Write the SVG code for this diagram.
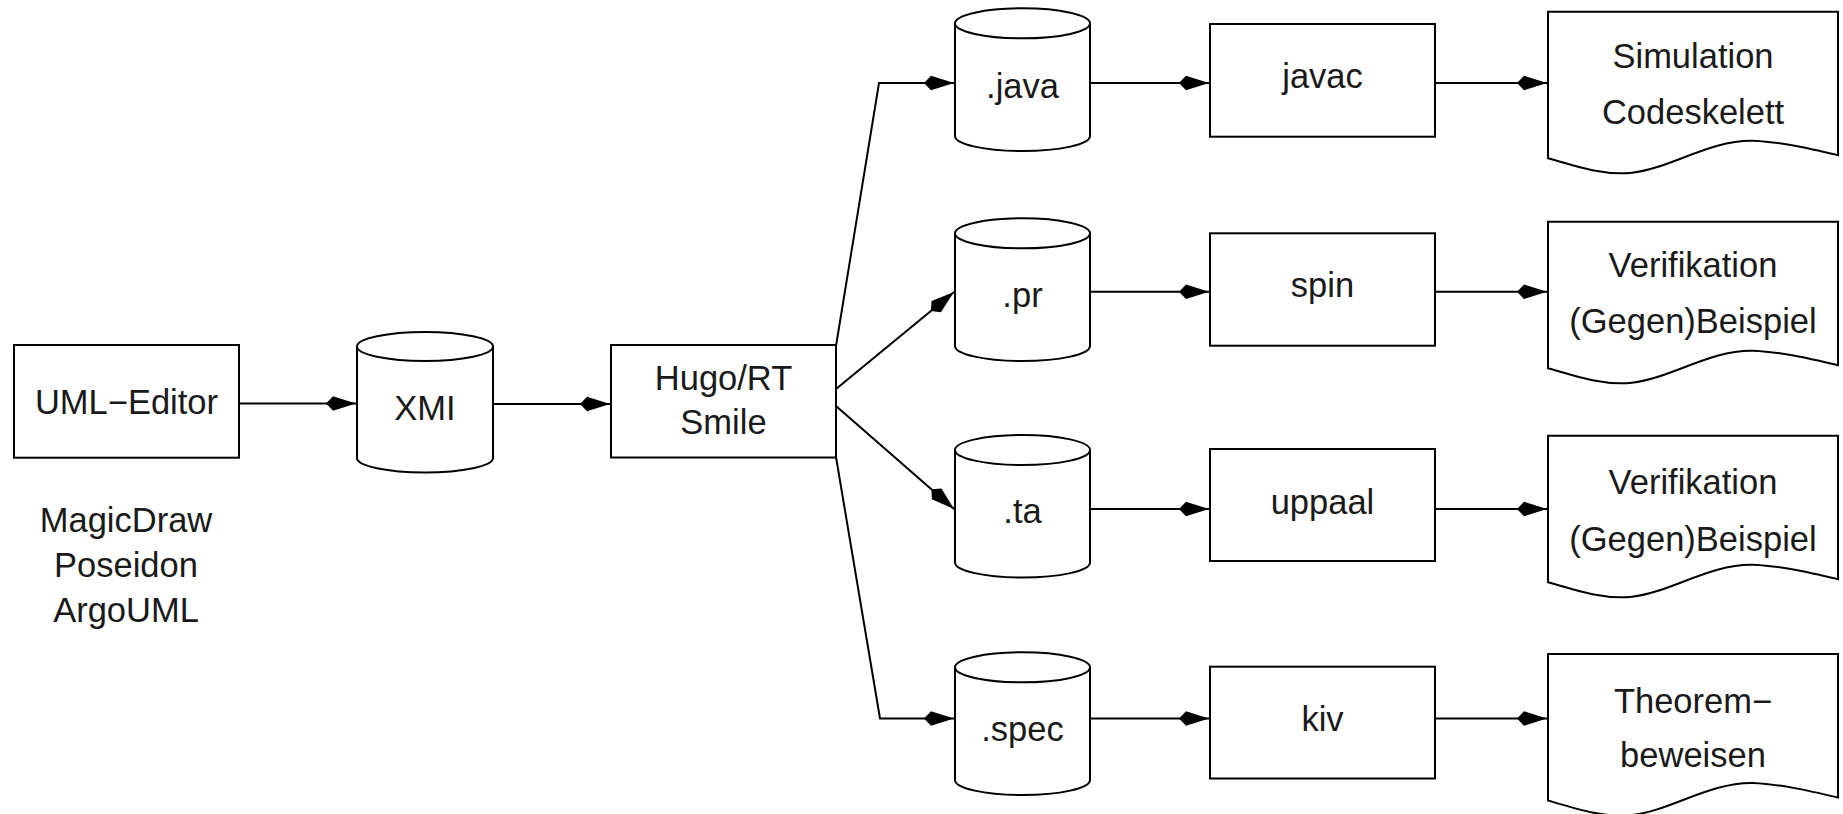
<svg xmlns="http://www.w3.org/2000/svg" width="1843" height="814" viewBox="0 0 1843 814">
<style>
  .shape { fill: #ffffff; stroke: #000000; stroke-width: 2; }
  .line { fill: none; stroke: #000000; stroke-width: 2; }
  text { font-family: "Liberation Sans", Arial, sans-serif; font-size: 34.5px; fill: #1a1a1a; text-anchor: middle; }
</style>
<defs>
  <marker id="arr" viewBox="-31 -8 32 16" refX="0" refY="0" markerWidth="32" markerHeight="16" markerUnits="userSpaceOnUse" orient="auto">
    <path d="M0,0 L-23,-7.3 L-30,0 L-23,7.3 Z" fill="#000000"/>
  </marker>
</defs>
<rect width="1843" height="814" fill="#ffffff"/>

<g id="connectors">
  <path class="line" d="M239,403.5 L356,403.5" marker-end="url(#arr)"/>
  <path class="line" d="M493,404 L610,404" marker-end="url(#arr)"/>
  <path class="line" d="M836,346 L879,83 L954,83" marker-end="url(#arr)"/>
  <path class="line" d="M836,389 L954,292" marker-end="url(#arr)"/>
  <path class="line" d="M836,406 L954,509" marker-end="url(#arr)"/>
  <path class="line" d="M836,457 L880,718.5 L954,718.5" marker-end="url(#arr)"/>
  <path class="line" d="M1090,83 L1209,83" marker-end="url(#arr)"/>
  <path class="line" d="M1090,291.7 L1209,291.7" marker-end="url(#arr)"/>
  <path class="line" d="M1090,509 L1209,509" marker-end="url(#arr)"/>
  <path class="line" d="M1090,718.5 L1209,718.5" marker-end="url(#arr)"/>
  <path class="line" d="M1435,83 L1547,83" marker-end="url(#arr)"/>
  <path class="line" d="M1435,291.7 L1547,291.7" marker-end="url(#arr)"/>
  <path class="line" d="M1435,509 L1547,509" marker-end="url(#arr)"/>
  <path class="line" d="M1435,718.5 L1547,718.5" marker-end="url(#arr)"/>
</g>

<g id="uml-editor">
  <rect class="shape" x="14" y="345" width="225" height="112.7"/>
  <text x="126.5" y="413.5">UML−Editor</text>
</g>
<g id="tools-label">
  <text x="126" y="531.7">MagicDraw</text>
  <text x="126" y="576.7">Poseidon</text>
  <text x="126" y="621.7">ArgoUML</text>
</g>

<g id="xmi">
  <path class="shape" d="M357,346.5 A68,14.5 0 0 1 493,346.5 L493,458 A68,14.5 0 0 1 357,458 Z"/>
  <path class="line" d="M357,346.5 A68,14.5 0 0 0 493,346.5"/>
  <text x="425" y="420">XMI</text>
</g>

<g id="hugo">
  <rect class="shape" x="611" y="345" width="225" height="112.5"/>
  <text x="723.5" y="389.5">Hugo/RT</text>
  <text x="723.5" y="434.3">Smile</text>
</g>

<g id="java">
  <path class="shape" d="M955,23.3 A67.5,15 0 0 1 1090,23.3 L1090,136 A67.5,15 0 0 1 955,136 Z"/>
  <path class="line" d="M955,23.3 A67.5,15 0 0 0 1090,23.3"/>
  <text x="1022.5" y="98">.java</text>
</g>
<g id="pr">
  <path class="shape" d="M955,233.3 A67.5,15 0 0 1 1090,233.3 L1090,346 A67.5,15 0 0 1 955,346 Z"/>
  <path class="line" d="M955,233.3 A67.5,15 0 0 0 1090,233.3"/>
  <text x="1022.5" y="306.7">.pr</text>
</g>
<g id="ta">
  <path class="shape" d="M955,450 A67.5,15 0 0 1 1090,450 L1090,562.5 A67.5,15 0 0 1 955,562.5 Z"/>
  <path class="line" d="M955,450 A67.5,15 0 0 0 1090,450"/>
  <text x="1022.5" y="523.3">.ta</text>
</g>
<g id="spec">
  <path class="shape" d="M955,667.3 A67.5,15 0 0 1 1090,667.3 L1090,780 A67.5,15 0 0 1 955,780 Z"/>
  <path class="line" d="M955,667.3 A67.5,15 0 0 0 1090,667.3"/>
  <text x="1022.5" y="740.7">.spec</text>
</g>

<g id="javac">
  <rect class="shape" x="1210" y="24" width="225" height="112.7"/>
  <text x="1322.5" y="88.3">javac</text>
</g>
<g id="spin">
  <rect class="shape" x="1210" y="233.3" width="225" height="112.4"/>
  <text x="1322.5" y="297">spin</text>
</g>
<g id="uppaal">
  <rect class="shape" x="1210" y="449" width="225" height="112"/>
  <text x="1322.5" y="513.5">uppaal</text>
</g>
<g id="kiv">
  <rect class="shape" x="1210" y="666.7" width="225" height="111.8"/>
  <text x="1322.5" y="730.5">kiv</text>
</g>

<g id="doc-simulation" transform="translate(0,11.7)">
  <path class="shape" d="M1548,0 L1838,0 L1838,143.5 C1810,137 1780,130 1753,129 C1710,128 1670,157 1632,161 C1605,164 1580,156 1548,146.5 Z"/>
  <text x="1693" y="56.6">Simulation</text>
  <text x="1693" y="112.3">Codeskelett</text>
</g>
<g id="doc-verifikation-spin" transform="translate(0,221.7)">
  <path class="shape" d="M1548,0 L1838,0 L1838,143.5 C1810,137 1780,130 1753,129 C1710,128 1670,157 1632,161 C1605,164 1580,156 1548,146.5 Z"/>
  <text x="1693" y="55.6">Verifikation</text>
  <text x="1693" y="111">(Gegen)Beispiel</text>
</g>
<g id="doc-verifikation-uppaal" transform="translate(0,435.7)">
  <path class="shape" d="M1548,0 L1838,0 L1838,143.5 C1810,137 1780,130 1753,129 C1710,128 1670,157 1632,161 C1605,164 1580,156 1548,146.5 Z"/>
  <text x="1693" y="58.5">Verifikation</text>
  <text x="1693" y="115">(Gegen)Beispiel</text>
</g>
<g id="doc-theorem" transform="translate(0,654)">
  <path class="shape" d="M1548,0 L1838,0 L1838,143.5 C1810,137 1780,130 1753,129 C1710,128 1670,157 1632,161 C1605,164 1580,156 1548,146.5 Z"/>
  <text x="1693" y="58.7">Theorem−</text>
  <text x="1693" y="112.7">beweisen</text>
</g>
</svg>
